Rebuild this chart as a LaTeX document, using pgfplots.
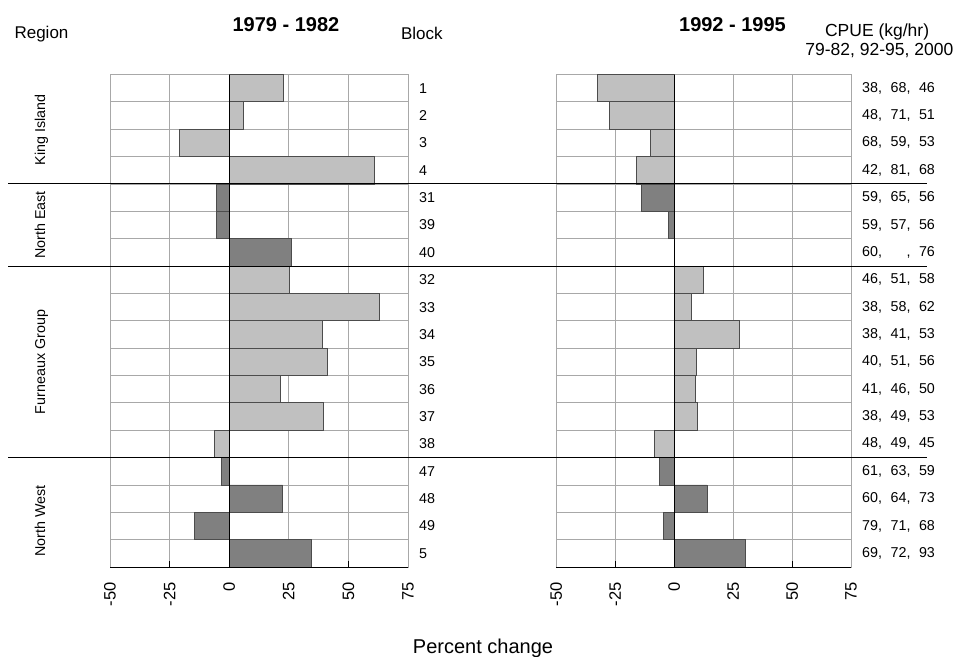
\documentclass[border=0pt]{standalone}
\usepackage{pgfplots}
\pgfplotsset{compat=1.18}
\usepackage{fontspec}
\setmainfont{Liberation Sans}

\definecolor{barlight}{HTML}{C0C0C0}
\definecolor{bardark}{HTML}{808080}
\definecolor{gridgray}{HTML}{A8A8A8}

% CPUE triple: 1979-82, 1992-95, 2000
\newcommand{\cp}[3]{\makebox[28.4pt][l]{#1,}\makebox[28.4pt][l]{#2,}#3}

\pgfplotsset{
  panel/.style={
    scale only axis, height=492.5pt,
    xmin=-50, xmax=75, ymin=0.5, ymax=18.5, y dir=reverse,
    xtick={-50,-25,0,25,50,75},
    xticklabels={-50,-25,0,25,50,75},
    xtick pos=bottom, tick align=inside,
    x tick style={black, line width=0.9pt}, major tick length=6pt,
    minor tick length=0pt,
    xmajorgrids,
    ytick={1,...,18}, y tick style={draw=none},
    minor ytick={1.5,2.5,...,17.5}, yminorgrids,
    grid style={gridgray, line width=0.8pt},
    minor grid style={gridgray, line width=0.8pt},
    axis line style={gridgray, line width=0.8pt},
    yticklabel pos=right,
    yticklabel shift=5pt,
    yticklabel style={anchor=west, inner sep=0pt, font=\fontsize{14.3}{16}\selectfont},
    xticklabel shift=15pt,
    xticklabel style={rotate=90, anchor=east, inner sep=0pt, font=\fontsize{16.5}{18}\selectfont},
    xbar, bar width=1,
    clip=false,
  },
  lightbar/.style={fill=barlight, draw=black!70, line width=0.8pt, bar shift=0pt},
  darkbar/.style={fill=bardark, draw=black!70, line width=0.8pt, bar shift=0pt},
}

\begin{document}
\begin{tikzpicture}
\path[use as bounding box] (0pt,0pt) rectangle (955pt,-656pt);

% ---- 1979 - 1982 ----
\begin{axis}[panel, width=298pt, at={(110pt,-74.5pt)}, anchor=north west,
  yticklabels={1,2,3,4,31,39,40,32,33,34,35,36,37,38,47,48,49,5}]
\addplot[lightbar] coordinates {
  (22.8,1) (6.0,2) (-21.0,3) (60.8,4)
  (25.3,8) (62.9,9) (39.3,10) (41.3,11) (21.3,12) (39.7,13) (-6.3,14)};
\addplot[darkbar] coordinates {
  (-5.5,5) (-5.5,6) (25.9,7)
  (-3.4,15) (22.4,16) (-14.7,17) (34.6,18)};
\draw[black, line width=1pt] (axis cs:0,0.5) -- (axis cs:0,18.5);
\draw[black, line width=1pt] (axis cs:-50,18.5) -- (axis cs:75,18.5);
\end{axis}

% ---- 1992 - 1995 ----
\begin{axis}[panel, width=294.7pt, at={(556.3pt,-74.5pt)}, anchor=north west,
  yticklabels={{\cp{38}{68}{46}},{\cp{48}{71}{51}},{\cp{68}{59}{53}},{\cp{42}{81}{68}},
    {\cp{59}{65}{56}},{\cp{59}{57}{56}},{\cp{60}{\phantom{00}}{76}},
    {\cp{46}{51}{58}},{\cp{38}{58}{62}},{\cp{38}{41}{53}},{\cp{40}{51}{56}},
    {\cp{41}{46}{50}},{\cp{38}{49}{53}},{\cp{48}{49}{45}},
    {\cp{61}{63}{59}},{\cp{60}{64}{73}},{\cp{79}{71}{68}},{\cp{69}{72}{93}}}]
\addplot[lightbar] coordinates {
  (-32.6,1) (-27.5,2) (-10.0,3) (-16.0,4)
  (12.6,8) (7.1,9) (27.7,10) (9.6,11) (8.8,12) (9.9,13) (-8.2,14)};
\addplot[darkbar] coordinates {
  (-14.0,5) (-2.5,6)
  (-6.2,15) (13.9,16) (-4.7,17) (30.0,18)};
\draw[black, line width=1pt] (axis cs:0,0.5) -- (axis cs:0,18.5);
\draw[black, line width=1pt] (axis cs:-50,18.5) -- (axis cs:75,18.5);
\end{axis}

% region separators
\foreach \yy in {183.9,266.0,457.6}
  \draw[black, line width=1pt] (8pt,-\yy pt) -- (927pt,-\yy pt);

% region names
\begin{scope}[every node/.style={rotate=90, anchor=base, font=\fontsize{14.3}{16}\selectfont}]
\node at (45pt,-130pt) {King Island};
\node at (45pt,-225pt) {North East};
\node at (45pt,-362pt) {Furneaux Group};
\node at (45pt,-521pt) {North West};
\end{scope}

% headings
\node[anchor=base, font=\fontsize{17}{20}\selectfont] at (41.5pt,-38pt) {Region};
\node[anchor=base, font=\fontsize{20}{24}\selectfont\bfseries] at (286pt,-31.7pt) {1979 - 1982};
\node[anchor=base, font=\fontsize{17}{20}\selectfont] at (421.8pt,-39.3pt) {Block};
\node[anchor=base, font=\fontsize{20}{24}\selectfont\bfseries] at (732.5pt,-31.7pt) {1992 - 1995};
\node[anchor=base east, inner sep=0pt, font=\fontsize{17.5}{20}\selectfont] at (929.3pt,-36pt) {CPUE (kg/hr)};
\node[anchor=base east, inner sep=0pt, font=\fontsize{17.5}{20}\selectfont] at (953.5pt,-55pt) {79-82, 92-95, 2000};
\node[anchor=base, font=\fontsize{20}{24}\selectfont] at (483pt,-653.5pt) {Percent change};
\end{tikzpicture}
\end{document}
